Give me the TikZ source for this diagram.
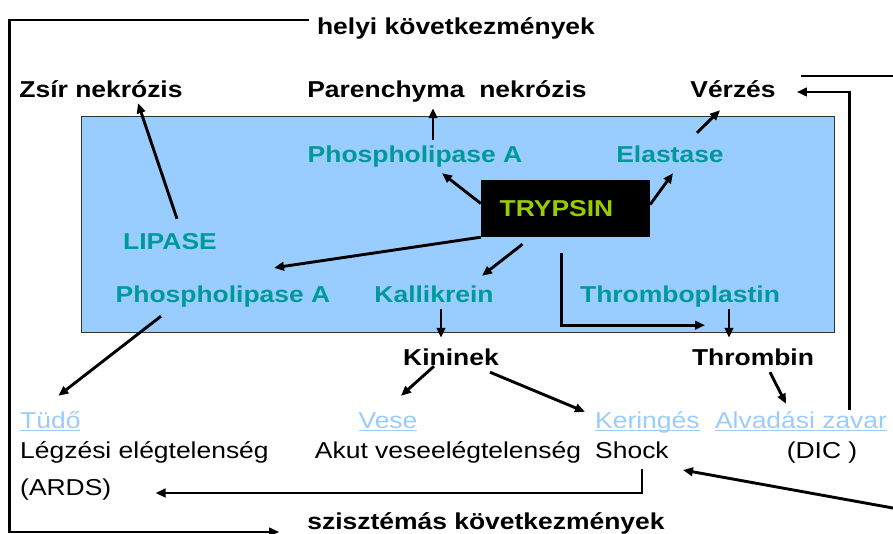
\documentclass[tikz,border=0pt]{standalone}
\usepackage{fontspec}
\setmainfont{Liberation Sans}[FakeStretch=1.15]
\usetikzlibrary{calc,arrows.meta}
\definecolor{panelblue}{HTML}{99CCFF}
\definecolor{enzteal}{HTML}{009999}
\definecolor{trypgreen}{HTML}{99CC00}
\definecolor{linkblue}{HTML}{99CCFF}
\newcommand{\ulink}[1]{\setbox0\hbox{#1}\rlap{\rule[-3pt]{\wd0}{1.5pt}}\box0}

\begin{document}
\begin{tikzpicture}[x=1pt,y=-1pt,
    lbl/.style={font=\fontsize{23}{27}\selectfont\bfseries,
                text height=17pt,text depth=5pt,inner sep=0pt,anchor=base},
    enz/.style={lbl,text=enzteal},
    txt/.style={lbl,font=\fontsize{23}{27}\selectfont},
    link/.style={txt,text=linkblue},
    arr/.style={-{Triangle[length=10pt,width=8.5pt]},line width=2.9pt}]
  \useasboundingbox (0,0) rectangle (893,534);
  \draw[fill=panelblue,draw=black!80,line width=0.8pt] (81,116) rectangle (834,332);
  % headings
  \node[lbl] (helyi) at (456,35) {helyi következmények};
  \node[lbl] (szisz) at (486,529) {szisztémás következmények};
  \node[lbl] (zsir) at (101,98) {Zsír nekrózis};
  \node[lbl] (par) at (447,98) {Parenchyma\ \ nekrózis};
  \node[lbl] (verzes) at (733,98) {Vérzés};
  % enzymes
  \node[fill=black,minimum width=169pt,minimum height=57pt,inner sep=0pt,
        font=\fontsize{23}{27}\selectfont\bfseries,text=trypgreen]
        (trypsin) at (565.5,208.5) {\kern-18pt TRYPSIN};
  \node[enz] (ppa1) at (415,163) {Phospholipase A};
  \node[enz] (elast) at (670,163) {Elastase};
  \node[enz] (lipase) at (170,250) {LIPASE};
  \node[enz] (ppa2) at (223,302) {Phospholipase A};
  \node[enz] (kall) at (434,302) {Kallikrein};
  \node[enz] (thrp) at (680,302) {Thromboplastin};
  \node[lbl] (kinin) at (451,365) {Kininek};
  \node[lbl] (thrombin) at (753,365) {Thrombin};
  % organs
  \node[link,anchor=base west] (tudo) at (20,428) {\ulink{Tüdő}};
  \node[txt,anchor=base west] (legz) at (20,458) {Légzési elégtelenség};
  \node[txt,anchor=base west] (ards) at (20,495) {(ARDS)};
  \node[link] (vese) at (388,428) {\ulink{Vese}};
  \node[txt] (akut) at (448,458) {Akut veseelégtelenség};
  \node[link,anchor=base west] (kering) at (595,428) {\ulink{Keringés}};
  \node[txt,anchor=base west] (shock) at (595,458) {Shock};
  \node[link] (alv) at (801,428) {\ulink{Alvadási zavar}};
  \node[txt] (dic) at (822,458) {(DIC )};
  \coordinate (offTa) at (801,76);
  \coordinate (offTb) at (900,76);
  \coordinate (offB) at (900,509.3);
  % arrows
  \draw[arr] ($(lipase.north)+(7,-14)$) -- ($(zsir.south)+(37,0)$);
  \draw[arr] ($(ppa1.north)+(18,-6)$) -- ($(par.south)+(-14,5)$);
  \draw[arr] ($(trypsin.west)+(0,-5)$) -- ($(ppa1.south)+(27,5)$);
  \draw[arr] ($(trypsin.east)+(0,-4)$) -- ($(elast.south)+(3,5)$);
  \draw[arr] ($(elast.north)+(27,-13)$) -- ($(verzes.south)+(-13,7)$);
  \draw[arr] (trypsin.south west) -- ($(ppa2.north)+(51,-17)$);
  \draw[arr] ($(trypsin.south)+(-43,7)$) -- ($(kall.north)+(48,-9)$);
  \draw[arr] ($(trypsin.south)+(-4,16)$) |- ($(thrp.south)+(25,18)$);
  \draw[arr] ($(thrp.south)+(49,2)$) -- ($(thrombin.north)+(-24,-10)$);
  \draw[arr] ($(kall.south)+(7,2)$) -- ($(kinin.north)+(-10,-10)$);
  \draw[arr] ($(ppa2.south)+(-62,9)$) -- ($(tudo.north)+(8,-15)$);
  \draw[arr] ($(kinin.south)+(-17,-4)$) -- ($(vese.north)+(13,-15)$);
  \draw[arr] ($(kinin.south)+(39,2)$) -- ($(kering.north west)+(-10,1)$);
  \draw[arr] ($(thrombin.south)+(17,2)$) -- ($(alv.north)+(-15,-7)$);
  \draw[arr] ($(shock.south)+(10,6)$) |- ($(ards.east)+(44,4)$);
  \draw[arr] ($(alv.north east)+(-38,-1)$) |- ($(verzes.east)+(21,0)$);
  \draw[arr] (offB) -- ($(shock.east)+(14,18)$);
  \draw[line width=2.9pt] (offTa) -- (offTb);
  \draw[arr] ($(helyi.west)+(-8,-9)$) -- ++(-299,0) |- ($(szisz.west)+(-28,9)$);
\end{tikzpicture}
\end{document}
